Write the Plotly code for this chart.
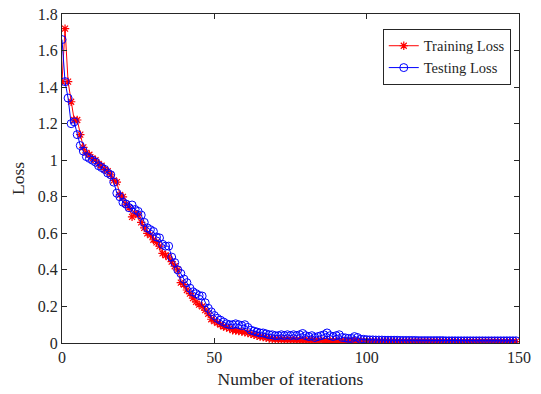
import plotly.graph_objects as go

iterations = list(range(150))

test_loss = [
    1.66, 1.43, 1.34, 1.20, 1.21, 1.14, 1.08, 1.05, 1.02, 1.01,
    1.00, 0.99, 0.97, 0.96, 0.95, 0.93, 0.92, 0.88, 0.82, 0.80,
    0.77, 0.76, 0.74, 0.755, 0.73, 0.72, 0.70, 0.66, 0.63, 0.62,
    0.61, 0.58, 0.575, 0.54, 0.53, 0.53, 0.47, 0.44, 0.40, 0.38,
    0.35, 0.33, 0.30, 0.28, 0.27, 0.26, 0.257, 0.22, 0.19, 0.17,
    0.15, 0.135, 0.125, 0.115, 0.105, 0.10, 0.10, 0.105, 0.10, 0.095,
    0.10, 0.085, 0.07, 0.065, 0.06, 0.055, 0.055, 0.05, 0.045, 0.045,
    0.04, 0.04, 0.045, 0.04, 0.045, 0.04, 0.045, 0.04, 0.045, 0.052,
    0.04, 0.035, 0.04, 0.03, 0.035, 0.04, 0.045, 0.055, 0.04, 0.035,
    0.04, 0.045, 0.03, 0.028, 0.025, 0.025, 0.035, 0.03, 0.02, 0.02,
    0.018, 0.017, 0.017, 0.016, 0.016, 0.016, 0.015, 0.015, 0.015, 0.015,
    0.015, 0.014, 0.014, 0.014, 0.014, 0.014, 0.014, 0.013, 0.013, 0.013,
    0.013, 0.013, 0.013, 0.013, 0.013, 0.013, 0.012, 0.012, 0.012, 0.012,
    0.012, 0.012, 0.012, 0.012, 0.012, 0.012, 0.012, 0.012, 0.012, 0.012,
    0.012, 0.012, 0.012, 0.012, 0.012, 0.012, 0.012, 0.012, 0.012, 0.012,
]

train_loss = [
    1.43, 1.72, 1.43, 1.32, 1.22, 1.22, 1.14, 1.07, 1.04, 1.03,
    1.01, 1.00, 0.98, 0.97, 0.95, 0.94, 0.92, 0.89, 0.88, 0.81,
    0.80, 0.76, 0.74, 0.69, 0.71, 0.70, 0.66, 0.63, 0.60, 0.59,
    0.565, 0.55, 0.53, 0.49, 0.48, 0.47, 0.445, 0.42, 0.40, 0.33,
    0.32, 0.29, 0.27, 0.245, 0.225, 0.21, 0.20, 0.18, 0.16, 0.13,
    0.12, 0.11, 0.10, 0.09, 0.085, 0.08, 0.07, 0.068, 0.065, 0.062,
    0.058, 0.055, 0.05, 0.045, 0.04, 0.035, 0.032, 0.028, 0.025, 0.022,
    0.02, 0.02, 0.019, 0.019, 0.018, 0.018, 0.017, 0.017, 0.016, 0.016,
    0.015, 0.015, 0.015, 0.014, 0.014, 0.014, 0.013, 0.013, 0.013, 0.012,
    0.012, 0.012, 0.012, 0.011, 0.011, 0.011, 0.011, 0.011, 0.010, 0.010,
    0.010, 0.010, 0.010, 0.010, 0.010, 0.010, 0.010, 0.010, 0.010, 0.010,
    0.009, 0.009, 0.009, 0.009, 0.009, 0.009, 0.009, 0.009, 0.009, 0.009,
    0.009, 0.009, 0.009, 0.009, 0.009, 0.009, 0.009, 0.009, 0.009, 0.009,
    0.008, 0.008, 0.008, 0.008, 0.008, 0.008, 0.008, 0.008, 0.008, 0.008,
    0.008, 0.008, 0.008, 0.008, 0.008, 0.008, 0.008, 0.008, 0.008, 0.008,
]

font_family = "Liberation Serif"

fig = go.Figure()
fig.add_trace(go.Scatter(
    x=iterations, y=train_loss, name="Training Loss", mode="lines+markers",
    line=dict(color="#ff0000", width=1),
    marker=dict(symbol="asterisk-open", size=7, color="#ff0000",
                line=dict(color="#ff0000", width=1.2)),
))
fig.add_trace(go.Scatter(
    x=iterations, y=test_loss, name="Testing Loss", mode="lines+markers",
    line=dict(color="#0000ff", width=1),
    marker=dict(symbol="circle-open", size=8, color="#0000ff",
                line=dict(color="#0000ff", width=1)),
))

axis_common = dict(
    showline=True, linecolor="#262626", linewidth=1, mirror="ticks",
    ticks="inside", ticklen=5, tickcolor="#262626",
    showgrid=False, zeroline=False, automargin=False,
    tickfont=dict(family=font_family, size=16, color="#262626"),
)

fig.update_layout(
    width=541, height=394,
    margin=dict(l=62, r=22, t=14, b=51),
    paper_bgcolor="white", plot_bgcolor="white",
    font=dict(family=font_family, size=16, color="#262626"),
    showlegend=True,
    legend=dict(
        x=0.982, y=0.955, xanchor="right", yanchor="top",
        bordercolor="#262626", borderwidth=1, bgcolor="white",
        font=dict(family=font_family, size=14.5, color="#262626"),
        tracegroupgap=0, itemwidth=30,
    ),
    xaxis=dict(range=[0, 150], tickvals=[0, 50, 100, 150],
               title=dict(text="Number of iterations", standoff=7,
                          font=dict(family=font_family, size=17.5)),
               **axis_common),
    yaxis=dict(range=[0, 1.8],
               tickvals=[0, 0.2, 0.4, 0.6, 0.8, 1.0, 1.2, 1.4, 1.6, 1.8],
               ticktext=["0", "0.2", "0.4", "0.6", "0.8", "1", "1.2", "1.4", "1.6", "1.8"],
               title=dict(text="Loss", standoff=8,
                          font=dict(family=font_family, size=17.5)),
               **axis_common),
)

fig.write_html("out.html")
